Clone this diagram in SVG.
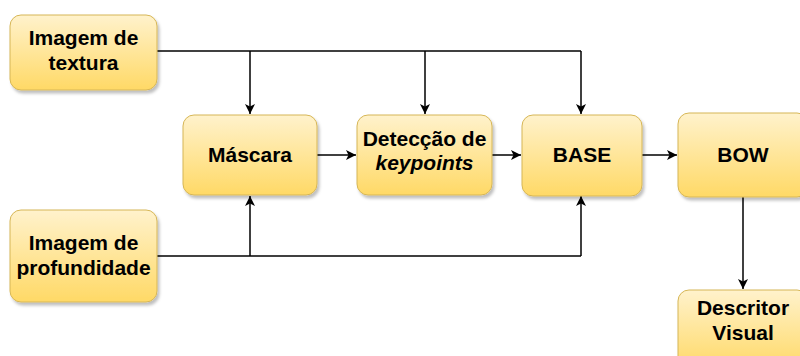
<svg xmlns="http://www.w3.org/2000/svg" width="800" height="356" viewBox="0 0 800 356">
  <defs>
    <linearGradient id="fill" x1="0" y1="0" x2="0" y2="1">
      <stop offset="0" stop-color="#fff2cc"/>
      <stop offset="1" stop-color="#ffd966"/>
    </linearGradient>
    <filter id="shadow" x="-10%" y="-10%" width="130%" height="140%">
      <feDropShadow dx="2" dy="3" stdDeviation="1.5" flood-color="#000" flood-opacity="0.25"/>
    </filter>
    <marker id="arrow" viewBox="0 0 10 10" refX="10" refY="5" markerWidth="10" markerHeight="10" markerUnits="userSpaceOnUse" orient="auto">
      <path d="M0,0 L10,5 L0,10 L2.5,5 Z" fill="#000"/>
    </marker>
  </defs>
  <style>
    .box { fill: url(#fill); stroke: #d6b656; stroke-width: 1; filter: url(#shadow); }
    .lbl { font-family: "Liberation Sans", Arial, Helvetica, sans-serif; font-weight: bold; font-size: 21px; fill: #000; text-anchor: middle; }
    .edge { fill: none; stroke: #000; stroke-width: 1.5; }
    .arr { marker-end: url(#arrow); }
  </style>

  <rect width="800" height="356" fill="#fff"/>

  <g id="connectors">
    <!-- texture image feed -->
    <path class="edge" d="M157,51 H581" stroke-width="2"/>
    <path class="edge arr" d="M250,51 V114"/>
    <path class="edge arr" d="M425,51 V114"/>
    <path class="edge arr" d="M581,51 V114"/>
    <!-- depth image feed -->
    <path class="edge" d="M157,256 H581"/>
    <path class="edge arr" d="M250,256 V196"/>
    <path class="edge arr" d="M581,256 V196"/>
    <!-- main pipeline -->
    <path class="edge arr" d="M317,155 H356"/>
    <path class="edge arr" d="M492,155 H521"/>
    <path class="edge arr" d="M642,155 H677"/>
    <path class="edge arr" d="M743,197 V289"/>
  </g>

  <g id="imagem-textura">
    <rect class="box" x="10" y="15" width="147" height="75" rx="11"/>
    <text class="lbl" x="83.5" y="45">Imagem de</text>
    <text class="lbl" x="83.5" y="70">textura</text>
  </g>

  <g id="imagem-profundidade">
    <rect class="box" x="10" y="210" width="147" height="92" rx="11"/>
    <text class="lbl" x="83.5" y="250">Imagem de</text>
    <text class="lbl" x="83.5" y="275">profundidade</text>
  </g>

  <g id="mascara">
    <rect class="box" x="183" y="115" width="134" height="80" rx="11"/>
    <text class="lbl" x="250" y="162">Máscara</text>
  </g>

  <g id="deteccao">
    <rect class="box" x="357" y="115" width="135" height="80" rx="11"/>
    <text class="lbl" x="424.5" y="146">Detecção de</text>
    <text class="lbl" x="424.5" y="170" font-style="italic">keypoints</text>
  </g>

  <g id="base">
    <rect class="box" x="522" y="115" width="120" height="81" rx="11"/>
    <text class="lbl" x="582" y="162">BASE</text>
  </g>

  <g id="bow">
    <rect class="box" x="678" y="113" width="130" height="84" rx="11"/>
    <text class="lbl" x="743" y="162">BOW</text>
  </g>

  <g id="descritor-visual">
    <rect class="box" x="678" y="290" width="130" height="80" rx="11"/>
    <text class="lbl" x="743" y="315">Descritor</text>
    <text class="lbl" x="743" y="340">Visual</text>
  </g>
</svg>
